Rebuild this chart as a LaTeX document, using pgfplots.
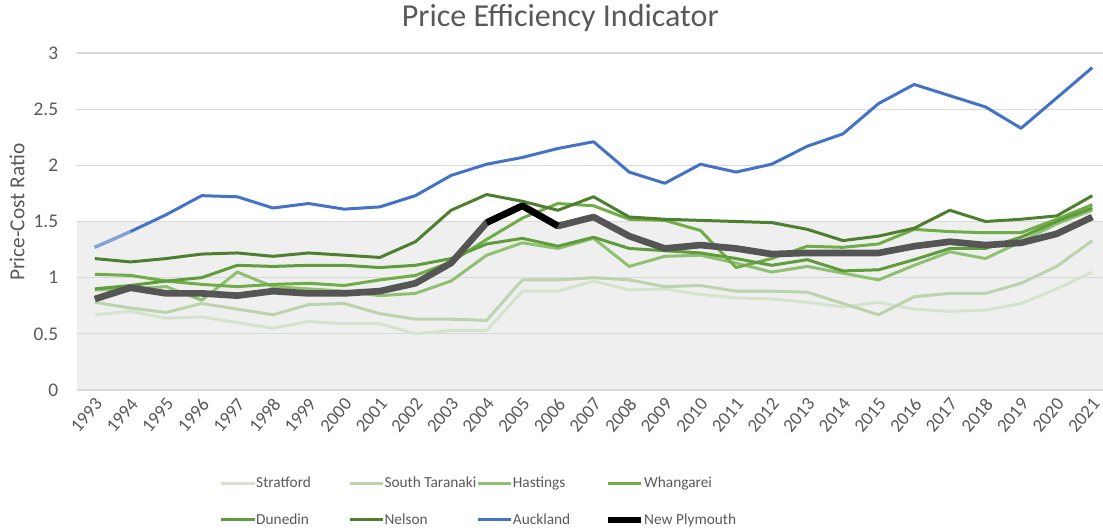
\documentclass[border=0pt]{standalone}
\usepackage{fontspec}
\setmainfont{Carlito}
\usepackage{pgfplots}
\usepackage{pgfplotstable}
\pgfplotsset{compat=1.18}

\definecolor{txt}{HTML}{595959}
\definecolor{gridc}{HTML}{D9D9D9}
\definecolor{band}{HTML}{EFEFEF}
\definecolor{cstr}{HTML}{D5E3CD}
\definecolor{csta}{HTML}{BBD4AD}
\definecolor{chas}{HTML}{8FC072}
\definecolor{cwha}{HTML}{70AD47}
\definecolor{cdun}{HTML}{5E9C3C}
\definecolor{cnel}{HTML}{4E7F30}
\definecolor{cauk}{HTML}{4472C4}
\definecolor{caukl}{HTML}{86A3D8}
\definecolor{cnp}{HTML}{555555}

% price-cost ratio by council
\pgfplotstableread{
year str  sta  has  wha  dun  nel  auk  np
1993 0.67 0.78 0.89 1.03 0.90 1.17 1.27 0.81
1994 0.70 0.73 0.90 1.02 0.93 1.14 1.41 0.91
1995 0.64 0.69 0.92 0.97 0.97 1.17 1.56 0.86
1996 0.65 0.77 0.80 0.94 1.00 1.21 1.73 0.86
1997 0.60 0.72 1.05 0.92 1.11 1.22 1.72 0.84
1998 0.55 0.67 0.92 0.94 1.10 1.19 1.62 0.88
1999 0.61 0.76 0.90 0.95 1.11 1.22 1.66 0.86
2000 0.59 0.77 0.88 0.93 1.11 1.20 1.61 0.86
2001 0.59 0.68 0.84 0.98 1.09 1.18 1.63 0.88
2002 0.50 0.63 0.86 1.02 1.11 1.32 1.73 0.95
2003 0.53 0.63 0.97 1.14 1.17 1.60 1.91 1.13
2004 0.53 0.62 1.20 1.34 1.30 1.74 2.01 1.49
2005 0.88 0.98 1.31 1.53 1.35 1.68 2.07 1.64
2006 0.88 0.98 1.26 1.66 1.28 1.60 2.15 1.46
2007 0.97 1.00 1.35 1.64 1.36 1.72 2.21 1.54
2008 0.89 0.98 1.10 1.52 1.26 1.54 1.94 1.37
2009 0.90 0.92 1.19 1.51 1.24 1.52 1.84 1.26
2010 0.85 0.93 1.20 1.42 1.22 1.51 2.01 1.29
2011 0.82 0.88 1.13 1.09 1.17 1.50 1.94 1.26
2012 0.81 0.88 1.05 1.17 1.11 1.49 2.01 1.21
2013 0.78 0.87 1.10 1.28 1.16 1.43 2.17 1.22
2014 0.74 0.77 1.04 1.27 1.06 1.33 2.28 1.22
2015 0.78 0.67 0.98 1.30 1.07 1.37 2.55 1.22
2016 0.72 0.83 1.11 1.43 1.16 1.44 2.72 1.28
2017 0.70 0.86 1.23 1.41 1.26 1.60 2.62 1.32
2018 0.71 0.86 1.17 1.40 1.26 1.50 2.52 1.29
2019 0.77 0.95 1.32 1.40 1.36 1.52 2.33 1.31
2020 0.90 1.10 1.48 1.52 1.50 1.55 2.60 1.39
2021 1.05 1.33 1.60 1.65 1.62 1.73 2.87 1.54
}\ratio

\begin{document}
\begin{tikzpicture}
\begin{axis}[
    set layers,
    scale only axis,
    width=769.5pt, height=252.75pt,
    xmin=1992.5, xmax=2021.3,
    ymin=0, ymax=3,
    xtick={1993,...,2021},
    ytick={0,0.5,...,3},
    major tick length=0pt,
    axis line style={draw=none},
    ymajorgrids=true,
    major grid style={draw=gridc, line width=0.9pt},
    /pgf/number format/assume math mode=true,
    x tick label style={/pgf/number format/1000 sep={}, font=\fontsize{14}{15}\selectfont,
        text=txt, inner sep=0pt, xshift=3pt, yshift=-8pt, rotate=50, anchor=east},
    y tick label style={font=\fontsize{14.5}{15}\selectfont, text=txt, inner sep=0pt, xshift=-14pt},
    title={Price Efficiency Indicator},
    every axis title shift=0pt,
    title style={font=\fontsize{24}{26}\selectfont, text=txt, at={(axis description cs:0.471,1.104)}, anchor=center},
    ylabel={Price-Cost Ratio},
    every axis y label/.style={font=\fontsize{16}{17}\selectfont, text=txt,
        at={(axis description cs:-0.0585,0.528)}, rotate=90, anchor=center},
    every axis plot/.append style={line width=2.25pt, line join=round, no markers},
    legend columns=4,
    legend image code/.code={\draw[#1] (0pt,0pt) -- (25pt,0pt);},
    legend style={at={(axis description cs:0.139,-0.255)}, anchor=north west,
        draw=none, fill=none, inner sep=0pt, row sep=17pt,
        font=\fontsize{11.5}{13}\selectfont, text=txt,
        nodes={inner sep=0.5pt},
        /tikz/every odd column/.append style={column sep=-0.5pt}},
]

% shaded band below 1.5
\addplot[fill=band, draw=none, on layer=axis background, forget plot]
    coordinates {(1992.5,1.5) (2021.3,1.5)} \closedcycle;

\addplot[cstr] table[x=year, y=str] {\ratio};
\addlegendentry{\makebox[68.5pt][l]{Stratford}}
\addplot[csta] table[x=year, y=sta] {\ratio};
\addlegendentry{\makebox[68.5pt][l]{South Taranaki}}
\addplot[chas] table[x=year, y=has] {\ratio};
\addlegendentry{\makebox[68.5pt][l]{Hastings}}
\addplot[cwha] table[x=year, y=wha] {\ratio};
\addlegendentry{\makebox[68.5pt][l]{Whangarei}}
\addplot[cdun] table[x=year, y=dun] {\ratio};
\addlegendentry{\makebox[68.5pt][l]{Dunedin}}
\addplot[cnel] table[x=year, y=nel] {\ratio};
\addlegendentry{\makebox[68.5pt][l]{Nelson}}
\addplot[cauk] table[x=year, y=auk] {\ratio};
\addlegendentry{\makebox[68.5pt][l]{Auckland}}
\addplot[caukl, forget plot] coordinates {(1993,1.27) (1994,1.41)};
\addplot[cnp, line width=5pt, forget plot] table[x=year, y=np] {\ratio};
\addplot[black, line width=5pt, forget plot] coordinates {(2004,1.49) (2005,1.64) (2006,1.46)};
\addlegendimage{black, line width=4.5pt}
\addlegendentry{\makebox[68.5pt][l]{New Plymouth}}
\end{axis}
\pgfresetboundingbox
\path[use as bounding box] ([xshift=-57.75pt, yshift=-105.75pt]current axis.south west) rectangle ++(827.25pt, 398.25pt);
\end{tikzpicture}
\end{document}
